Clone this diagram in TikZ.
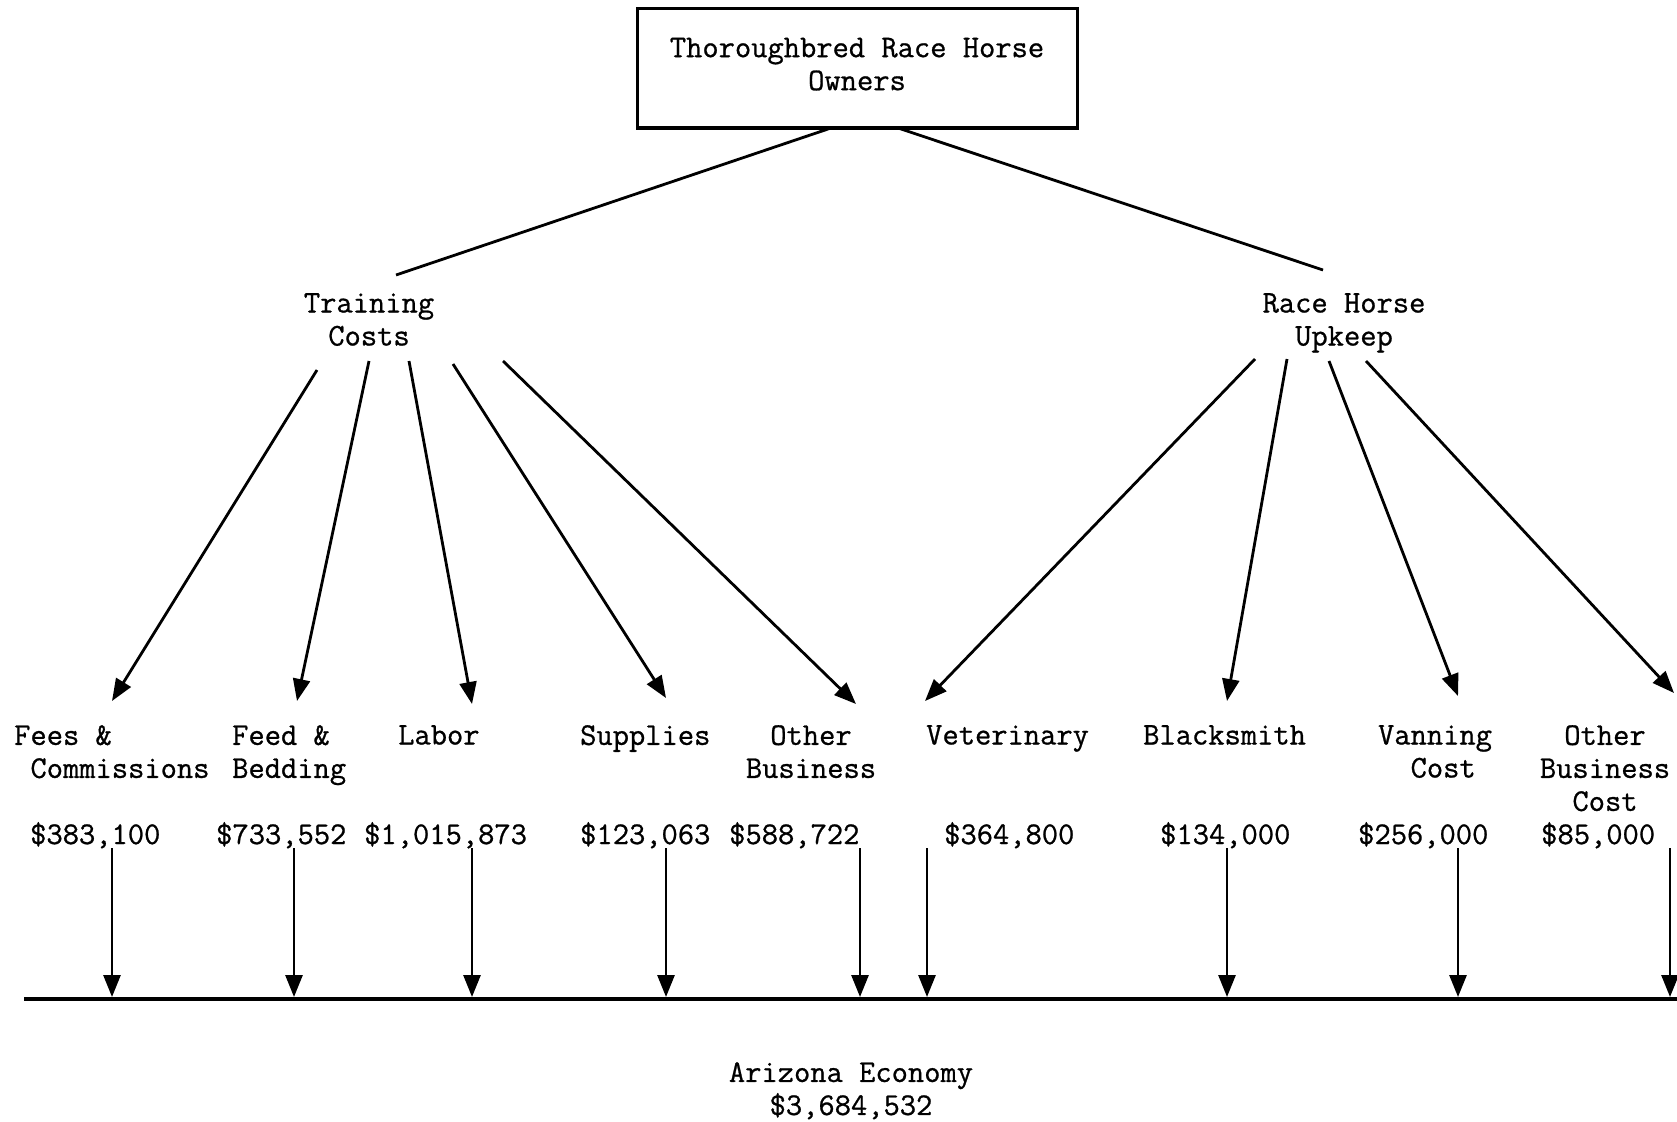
\documentclass[tikz,border=0pt]{standalone}
\usepackage{fontspec}
\setmonofont{Latin Modern Mono}[FakeBold=0.8]
\usetikzlibrary{arrows.meta}
\begin{document}
\begin{tikzpicture}[x=1pt,y=-1pt,
  font=\ttfamily\fontsize{31.6}{33}\selectfont,
  lbl/.style={inner sep=0pt, align=center, anchor=north},
  lbll/.style={inner sep=0pt, align=left, anchor=north west},
  amt/.style={inner sep=0pt, anchor=base west},
  conn/.style={line width=2.8pt},
  arr/.style={conn, -{Triangle[width=17pt,length=22pt]}}]
\useasboundingbox (0,0) rectangle (1677,1121);

% top box
\node[draw, line width=3pt, minimum width=440pt, minimum height=119pt, inner sep=0pt, align=center, text depth=9pt] (owners) at (857,68.5) {Thoroughbred Race Horse\\Owners};

% categories
\node[lbl] (train) at (369,293) {Training\\Costs};
\node[lbl] (upkeep) at (1344,293) {Race Horse\\Upkeep};

% items
\node[lbll] (fees) at (14,725) {Fees \&\\\phantom{x}Commissions};
\node[lbll] (feed) at (232,725) {Feed \&\\Bedding};
\node[lbll] (labor) at (398,725) {Labor};
\node[lbll] (supp) at (580,725) {Supplies};
\node[lbl] (othb) at (811,725) {Other\\Business};
\node[lbll] (vet) at (926,725) {Veterinary};
\node[lbll] (black) at (1143,725) {Blacksmith};
\node[lbl] (van) at (1435,725) {Vanning\\\phantom{x}Cost};
\node[lbl] (othc) at (1605,725) {Other\\Business\\Cost};

% amounts
\node[amt] (a1) at (30,844) {\$383,100};
\node[amt] (a2) at (216,844) {\$733,552};
\node[amt] (a3) at (364,844) {\$1,015,873};
\node[amt] (a4) at (580,844) {\$123,063};
\node[amt] (a5) at (729,844) {\$588,722};
\node[amt] (a6) at (944,844) {\$364,800};
\node[amt] (a7) at (1160,844) {\$134,000};
\node[amt] (a8) at (1358,844) {\$256,000};
\node[amt] (a9) at (1541,844) {\$85,000};

% economy
\node[lbl] (econ) at (851,1062) {Arizona Economy\\\$3,684,532};

% baseline
\coordinate (bl) at (24,999);
\coordinate (br) at (1677,999);
\draw[line width=4pt] (bl) -- (br);

% owners to categories
\coordinate (ow1) at (831,128);
\coordinate (ow2) at (898,128);
\coordinate (tcin) at (396,275);
\coordinate (upin) at (1323,270);
\draw[conn] (ow1) -- (tcin);
\draw[conn] (ow2) -- (upin);

% training costs arrows
\coordinate (t1s) at (317,370); \coordinate (t1e) at (112,701);
\coordinate (t2s) at (369,361); \coordinate (t2e) at (297,701);
\coordinate (t3s) at (409,361); \coordinate (t3e) at (472,704);
\coordinate (t4s) at (453,364); \coordinate (t4e) at (666,698);
\coordinate (t5s) at (503,361); \coordinate (t5e) at (856,704);
\foreach \i in {1,...,5} \draw[arr] (t\i s) -- (t\i e);

% upkeep arrows
\coordinate (u1s) at (1255,359); \coordinate (u1e) at (925,701);
\coordinate (u2s) at (1287,359); \coordinate (u2e) at (1227,701);
\coordinate (u3s) at (1329,361); \coordinate (u3e) at (1458,696);
\coordinate (u4s) at (1366,361); \coordinate (u4e) at (1674,693);
\foreach \i in {1,...,4} \draw[arr] (u\i s) -- (u\i e);

% amounts to economy line
\foreach \x [count=\i] in {112,294,472,666,860,927,1227,1458,1670} {
  \coordinate (v\i s) at (\x,848);
  \coordinate (v\i e) at (\x,997);
  \draw[arr] (v\i s) -- (v\i e);
}
\end{tikzpicture}
\end{document}
